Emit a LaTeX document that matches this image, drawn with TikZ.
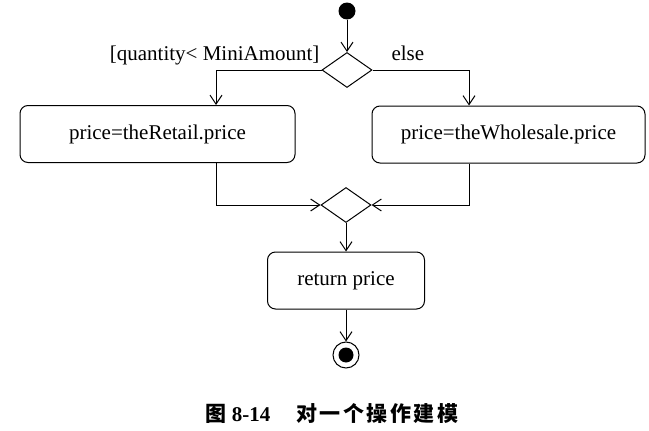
\documentclass[tikz,border=0pt]{standalone}
\usepackage{fontspec}
\setmainfont{Liberation Serif}
\newfontfamily\cjk{Noto Sans CJK SC}
\usetikzlibrary{shapes.geometric,arrows.meta}
\tikzset{
  act/.style={draw,rounded corners=8pt,minimum height=57pt,line width=1pt},
  choice/.style={draw,diamond,minimum width=50pt,minimum height=35pt,inner sep=0pt,line width=1pt},
  flow/.style={line width=1pt,-{Straight Barb[length=9pt,width=12pt]}}
}
\begin{document}
\begin{tikzpicture}[x=1pt,y=-1pt,font=\fontsize{21}{25}\selectfont]
\useasboundingbox (0,0) rectangle (649,431);
\node[circle,fill=black,minimum size=17pt,inner sep=0pt] (start) at (347,11) {};
\node[choice] (dec) at (347,70) {};
\node[act,minimum width=275pt] (retail) at (157.5,134) {price=theRetail.price};
\node[act,minimum width=273pt] (whole) at (508.5,134.5) {price=theWholesale.price};
\node[choice] (merge) at (346,205) {};
\node[act,minimum width=157pt] (ret) at (346,280.5) {return price};
\node[circle,draw,line width=1pt,minimum size=26pt,inner sep=0pt] (final) at (346,355) {};
\node[circle,fill=black,minimum size=15pt,inner sep=0pt] (finaldot) at (final) {};
\node[anchor=base east] (guard) at (323,60) {[quantity< MiniAmount]};
\node[anchor=base west] (other) at (388,60) {else};
\draw[flow] (start) -- (dec.north);
\draw[flow] (dec.west) -| ([xshift=58.5pt]retail.north);
\draw[flow] (dec.east) -| ([xshift=-39.5pt]whole.north);
\draw[flow] ([xshift=58.5pt]retail.south) |- (merge.west);
\draw[flow] ([xshift=-39.5pt]whole.south) |- (merge.east);
\draw[flow] (merge.south) -- (ret.north);
\draw[flow] (ret.south) -- (final.north);
\node[anchor=base west,font=\fontsize{21}{25}\selectfont] (cap) at (202,421)
  {{\cjk\bfseries 图} \textbf{8-14}\hspace{26pt}{\cjk\bfseries 对\hspace{2.5pt}一\hspace{2.5pt}个\hspace{2.5pt}操\hspace{2.5pt}作\hspace{2.5pt}建\hspace{2.5pt}模}};
\end{tikzpicture}
\end{document}
